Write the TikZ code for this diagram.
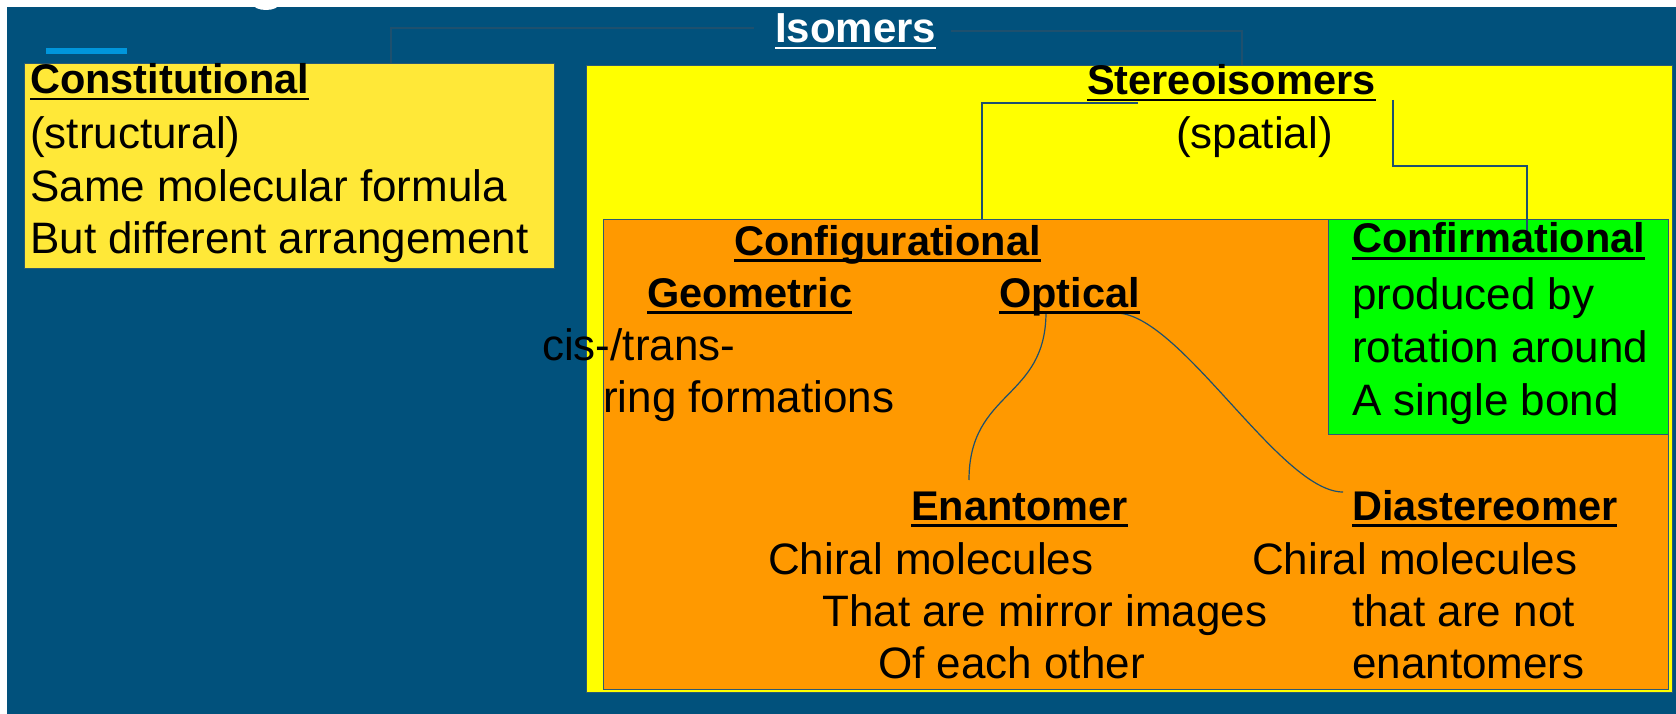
\documentclass[tikz,border=0pt]{standalone}
\usepackage{fontspec}
\setmainfont{Liberation Sans}
\definecolor{bgblue}{RGB}{1,81,124}
\definecolor{consyellow}{RGB}{255,232,56}
\definecolor{stereoyellow}{RGB}{255,255,0}
\definecolor{boxorange}{RGB}{255,153,0}
\definecolor{boxgreen}{RGB}{0,255,0}
\definecolor{barcyan}{RGB}{0,150,220}
\definecolor{linec}{RGB}{30,80,110}
\definecolor{boxline}{RGB}{45,90,115}
\newcommand\myul[1]{\setbox0\hbox{#1}\rlap{\rule[-6.5pt]{\wd0}{2.8pt}}\box0}
\tikzset{
  txt/.style={anchor=base west, inner sep=0pt, font=\fontsize{44}{52}\selectfont, yshift=-2pt},
  head/.style={anchor=base west, inner sep=0pt, font=\fontsize{41.5}{50}\selectfont\bfseries},
  conn/.style={draw=linec, line width=1.2pt},
  panel/.style={draw=boxline, line width=1pt, anchor=north west, inner sep=0pt},
}
\begin{document}
\begin{tikzpicture}[x=1pt,y=-1pt]
\useasboundingbox (0,0) rectangle (1676,714);
% background
\fill[white] (0,0) rectangle (1676,714);
\fill[bgblue] (7,7) rectangle (1676,714);
\fill[white] (266,4) ellipse [x radius=13, y radius=6];
\fill[barcyan] (46,48) rectangle (127,54);
% panels
\node[panel, fill=consyellow, minimum width=530pt, minimum height=205pt] (consbox) at (23.5,63) {};
\node[panel, fill=stereoyellow, minimum width=1086pt, minimum height=627pt] (stereobox) at (586,65) {};
\node[panel, fill=boxorange, minimum width=1065pt, minimum height=470pt] (confbox) at (603,219) {};
\node[panel, fill=boxgreen, minimum width=340pt, minimum height=215pt] (greenbox) at (1328,219) {};
% connector end points
\coordinate (isoL) at (754,28);
\coordinate (consTop) at (391,63);
\coordinate (isoR) at (951,31);
\coordinate (stereoTop) at (1242,65);
\coordinate (stL) at (1138,103);
\coordinate (cfgTop) at (982,219);
\coordinate (stR) at (1393,100);
\coordinate (stRm) at (1393,166);
\coordinate (cnfTop) at (1527,232);
\coordinate (optA) at (1046,312);
\coordinate (enaTop) at (969,480);
\coordinate (optB) at (1116,313);
\coordinate (diaL) at (1343,492);
% connectors
\draw[conn] (isoL) -| (consTop);
\draw[conn] (isoR) -| (stereoTop);
\draw[conn] (stL) -| (cfgTop);
\draw[conn] (stR) -- (stRm) -| (cnfTop);
\draw[conn] (optA) .. controls (1046,400) and (969,390) .. (enaTop);
\draw[conn] (optB) .. controls (1180,313) and (1280,492) .. (diaL);
% texts
\node[head, text=white, font=\fontsize{42}{50}\selectfont\bfseries] (iso) at (775,43) {\myul{Isomers}};
\node[head] (cons) at (30,94) {\myul{Constitutional}};
\node[txt] (cons1) at (30,147) {(structural)};
\node[txt] (cons2) at (30,200) {Same molecular formula};
\node[txt] (cons3) at (30,252) {But different arrangement};
\node[head] (stereo) at (1087,95) {\myul{Stereoisomers}};
\node[txt] (stereo1) at (1176,147) {(spatial)};
\node[head] (cfg) at (734,255) {\myul{Configurational}};
\node[head] (geo) at (647,307) {\myul{Geometric}};
\node[head] (opt) at (999,307) {\myul{Optical}};
\node[txt] (geo1) at (542,358) {cis-/trans-};
\node[txt] (geo2) at (603,410) {ring formations};
\node[head] (cnf) at (1352,253) {\myul{Confirmational}};
\node[txt] (cnf1) at (1352,307) {produced by};
\node[txt] (cnf2) at (1352,360) {rotation around};
\node[txt] (cnf3) at (1352,413) {A single bond};
\node[head] (ena) at (911,520) {\myul{Enantomer}};
\node[txt] (ena1) at (768,572) {Chiral molecules};
\node[txt] (ena2) at (822,624) {That are mirror images};
\node[txt] (ena3) at (878,676) {Of each other};
\node[head] (dia) at (1352,520) {\myul{Diastereomer}};
\node[txt] (dia1) at (1252,572) {Chiral molecules};
\node[txt] (dia2) at (1352,624) {that are not};
\node[txt] (dia3) at (1352,676) {enantomers};
\end{tikzpicture}
\end{document}
